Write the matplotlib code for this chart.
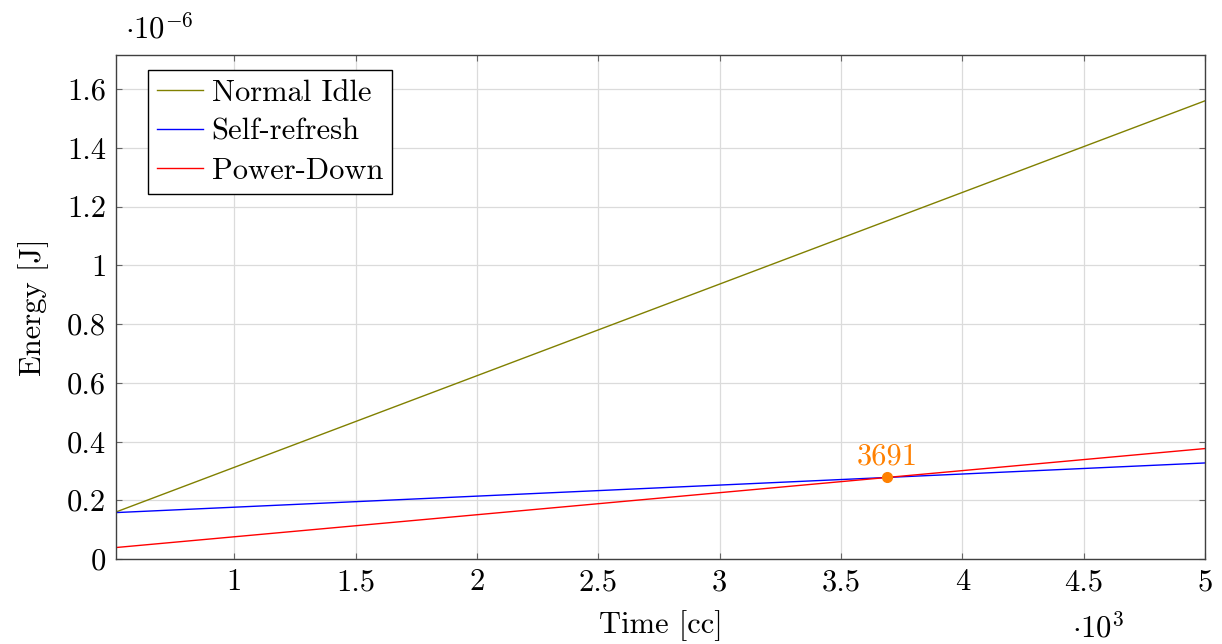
import matplotlib.pyplot as plt

plt.rcParams['font.family'] = 'serif'
plt.rcParams['font.serif'] = ['cmr10']
plt.rcParams['mathtext.fontset'] = 'cm'
plt.rcParams['axes.formatter.use_mathtext'] = True

# Energy over time for the three idle modes (time in 10^3 cc, energy in 10^-6 J)
time_k = [0.512, 5.0]
normal_idle = [0.160, 1.560]
self_refresh = [0.158, 0.327]
power_down = [0.039, 0.376]

cross_time = 3.691
cross_energy = 0.2775
cross_label = "3691"

x_ticks = [1, 1.5, 2, 2.5, 3, 3.5, 4, 4.5, 5]
x_labels = ["1", "1.5", "2", "2.5", "3", "3.5", "4", "4.5", "5"]
y_ticks = [0, 0.2, 0.4, 0.6, 0.8, 1, 1.2, 1.4, 1.6]
y_labels = ["0", "0.2", "0.4", "0.6", "0.8", "1", "1.2", "1.4", "1.6"]

fs = 22

fig = plt.figure(figsize=(12.22, 6.44), dpi=100)
ax = fig.add_axes([0.0949, 0.132, 0.8912, 0.7826])

ax.plot(time_k, normal_idle, color=(0.5, 0.5, 0.0), lw=1.0, label="Normal Idle")
ax.plot(time_k, self_refresh, color="blue", lw=1.0, label="Self-refresh")
ax.plot(time_k, power_down, color="red", lw=1.0, label="Power-Down")

ax.plot([cross_time], [cross_energy], "o", color=(1.0, 0.5, 0.0), ms=7, zorder=5)
ax.text(cross_time, cross_energy + 0.025, cross_label, color=(1.0, 0.5, 0.0),
        fontsize=fs, ha="center", va="bottom")

ax.set_xlim(0.512, 5.0)
ax.set_ylim(0, 1.716)
ax.set_xticks(x_ticks)
ax.set_xticklabels(x_labels)
ax.set_yticks(y_ticks)
ax.set_yticklabels(y_labels)
ax.tick_params(labelsize=fs, direction="in", length=4, width=0.8,
               top=True, right=True, color="0.4", pad=7)
ax.grid(True, color="0.86", lw=0.9)
ax.set_axisbelow(True)
for s in ax.spines.values():
    s.set_linewidth(1.0)
    s.set_color("0.25")

ax.set_xlabel("Time [cc]", fontsize=fs, labelpad=10)
ax.set_ylabel("Energy [J]", fontsize=fs, labelpad=13)

fig.text(0.102, 0.955, r"$\cdot 10^{-6}$", fontsize=22, ha="left", va="center")
fig.text(0.877, 0.025, r"$\cdot 10^{3}$", fontsize=22, ha="left", va="center")

leg = ax.legend(loc="upper left", bbox_to_anchor=(0.029, 0.97), borderaxespad=0,
                fontsize=fs, fancybox=False, framealpha=1, edgecolor="black",
                borderpad=0.3, labelspacing=0.38, handlelength=1.5,
                handletextpad=0.3)
leg.get_frame().set_linewidth(1.0)

fig.savefig("out.png", dpi=100)
